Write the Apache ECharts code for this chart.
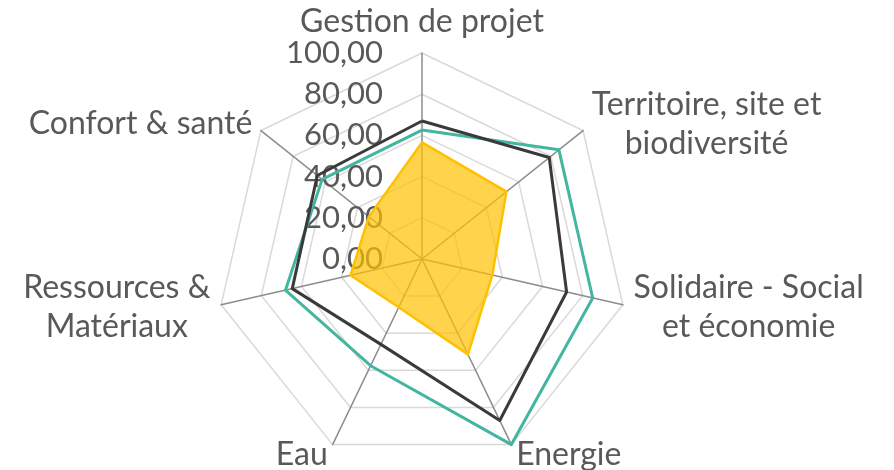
<!DOCTYPE html>
<html>
<head>
<meta charset="utf-8">
<script src="https://cdn.jsdelivr.net/npm/echarts@6/dist/echarts.min.js"></script>
<style>
html,body{margin:0;padding:0;background:#fff;}
#chart{width:894px;height:470px;}
</style>
</head>
<body>
<div id="chart"></div>
<script>
// Categories in clockwise order starting from the top
var categories = ['Gestion de projet', 'Territoire, site et\nbiodiversité', 'Solidaire - Social\net économie', 'Energie', 'Eau', 'Ressources &\nMatériaux', 'Confort & santé'];
var seriesTeal = [62.6, 85, 85, 100, 57.5, 68, 62];
var seriesDark = [67, 79, 72, 87, 46, 64.6, 65];
var seriesYellow = [56.6, 52.4, 35, 51.4, 26, 35.6, 33];
var tickValues = [0, 20, 40, 60, 80, 100];
var axisMax = 100;

// ECharts lays out radar indicators counter-clockwise; reorder to get clockwise order
function toCCW(arr) {
  return [arr[0]].concat(arr.slice(1).reverse());
}

var font = 'Lato';
var textColor = '#595959';

var indicators = toCCW(categories).map(function (c, i) {
  var ind = { name: c, max: axisMax, min: 0 };
  if (i === 0) {
    ind.axisLabel = { show: true };
  }
  return ind;
});

var chart = echarts.init(document.getElementById('chart'), null, { renderer: 'canvas' });
chart.setOption({
  animation: false,
  backgroundColor: '#ffffff',
  radar: {
    center: [422, 259],
    radius: 206,
    startAngle: 90,
    splitNumber: tickValues.length - 1,
    shape: 'polygon',
    nameGap: 11,
    axisName: {
      color: textColor,
      fontFamily: font,
      fontSize: 32,
      formatter: function (name) {
        return name.split('\n').map(function (l) { return '{c|' + l + '}'; }).join('\n');
      },
      rich: {
        c: { align: 'center', color: textColor, fontFamily: font, fontSize: 32, lineHeight: 39 }
      }
    },
    axisLine: { lineStyle: { color: '#8c8c8c', width: 1.5 } },
    splitLine: { lineStyle: { color: '#d9d9d9', width: 1.5 } },
    splitArea: { show: false },
    axisTick: { show: false },
    axisLabel: {
      show: false,
      color: textColor,
      fontFamily: font,
      fontSize: 31,
      margin: 39,
      formatter: function (v) { return v.toFixed(2).replace('.', ','); }
    },
    indicator: indicators
  },
  series: [{
    type: 'radar',
    symbol: 'none',
    data: [
      {
        value: toCCW(seriesYellow),
        lineStyle: { color: '#ffc000', width: 2.5 },
        areaStyle: { color: '#ffc000', opacity: 0.7 },
        itemStyle: { color: '#ffc000' }
      },
      {
        value: toCCW(seriesTeal),
        lineStyle: { color: '#44b5a0', width: 3 },
        itemStyle: { color: '#44b5a0' }
      },
      {
        value: toCCW(seriesDark),
        lineStyle: { color: '#3a3a3a', width: 3 },
        itemStyle: { color: '#3a3a3a' }
      }
    ]
  }]
});
</script>
</body>
</html>
